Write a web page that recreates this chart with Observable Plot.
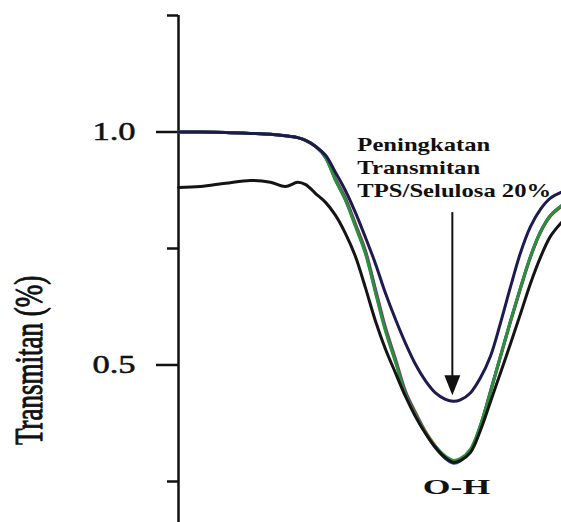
<!DOCTYPE html>
<html>
<head>
<meta charset="utf-8">
<script src="https://cdn.jsdelivr.net/npm/d3@7"></script>
<script src="https://cdn.jsdelivr.net/npm/@observablehq/plot@0.6"></script>
<style>
  body { margin: 0; background: #fff; }
  #chart svg { display: block; }
</style>
</head>
<body>
<div id="chart"></div>
<script>
// FTIR transmittance around the O-H stretching band (wavenumber in cm-1)
const wavenumber = [4000, 3943, 3877, 3812, 3760, 3721, 3689, 3668, 3642, 3616, 3590, 3564, 3538, 3512, 3486, 3460, 3433, 3407, 3381, 3355, 3329, 3303, 3282, 3264, 3238, 3212, 3185, 3159, 3133, 3107, 3081, 3055, 3029, 3000];

const tps0  = [0.881, 0.883, 0.890, 0.896, 0.892, 0.883, 0.892, 0.887, 0.868, 0.849, 0.821, 0.782, 0.733, 0.666, 0.595, 0.535, 0.482, 0.432, 0.389, 0.353, 0.323, 0.301, 0.291, 0.295, 0.312, 0.359, 0.422, 0.484, 0.546, 0.610, 0.675, 0.731, 0.776, 0.806];
const tps5  = [1.000, 1.000, 0.999, 0.997, 0.995, 0.992, 0.988, 0.982, 0.969, 0.946, 0.900, 0.858, 0.803, 0.746, 0.664, 0.582, 0.512, 0.443, 0.398, 0.357, 0.326, 0.303, 0.293, 0.297, 0.317, 0.368, 0.443, 0.518, 0.593, 0.664, 0.731, 0.784, 0.819, 0.840];
const tps10 = [1.000, 1.000, 0.999, 0.997, 0.995, 0.992, 0.988, 0.982, 0.969, 0.945, 0.897, 0.855, 0.800, 0.742, 0.660, 0.578, 0.508, 0.440, 0.395, 0.354, 0.322, 0.299, 0.289, 0.294, 0.316, 0.369, 0.445, 0.520, 0.595, 0.666, 0.733, 0.786, 0.821, 0.842];
const tps15 = [1.000, 1.000, 0.999, 0.997, 0.995, 0.992, 0.988, 0.982, 0.969, 0.945, 0.896, 0.853, 0.797, 0.739, 0.656, 0.574, 0.505, 0.437, 0.394, 0.355, 0.325, 0.304, 0.295, 0.299, 0.319, 0.370, 0.445, 0.520, 0.595, 0.666, 0.733, 0.786, 0.821, 0.842];
const tps20 = [1.000, 1.000, 0.999, 0.997, 0.995, 0.992, 0.988, 0.982, 0.969, 0.950, 0.913, 0.874, 0.827, 0.774, 0.718, 0.655, 0.597, 0.546, 0.501, 0.466, 0.440, 0.426, 0.422, 0.425, 0.440, 0.472, 0.520, 0.591, 0.668, 0.741, 0.797, 0.834, 0.858, 0.871];

// drawing order: later series sit on top
const series = [
  { name: "TPS/Selulosa 5%",  values: tps5,  color: "#c8392c" },
  { name: "TPS/Selulosa 10%", values: tps10, color: "#2c46c4" },
  { name: "TPS/Selulosa 15%", values: tps15, color: "#2e8f3a" },
  { name: "TPS",              values: tps0,  color: "#141414" },
  { name: "TPS/Selulosa 20%", values: tps20, color: "#1d1a4e" }
];

const majorTicks = [0.5, 1.0];
const minorTicks = [0.25, 0.75, 1.25];
const tickLabels = [1.0, 0.5];
const yTitle = [{ text: "Transmitan (%)", T: 0.51 }];
const note = [{ text: "Peningkatan\nTransmitan\nTPS/Selulosa 20%", w: 3533, T: 0.995 }];
const arrow = [{ w: 3285, from: 0.827, to: 0.435, shaftEnd: 0.46 }];
const band = [{ text: "O-H", w: 3274, T: 0.237 }];

// filled arrowhead pointing down, tip at the anchor point
const downTriangle = {
  draw(context, size) {
    const r = Math.sqrt(size / Math.PI);
    context.moveTo(0, 0);
    context.lineTo(-r, -2.5 * r);
    context.lineTo(r, -2.5 * r);
    context.closePath();
  }
};

const lineMarks = series.map(s =>
  Plot.line(wavenumber.map((w, i) => ({ w, T: s.values[i] })), {
    x: "w", y: "T", stroke: s.color, strokeWidth: 3, curve: "catmull-rom"
  })
);

const chart = Plot.plot({
  width: 561,
  height: 522,
  marginLeft: 178,
  marginRight: 0,
  marginTop: 15,
  marginBottom: 0,
  x: { domain: [4000, 3000], axis: null },
  y: { domain: [0.162, 1.25] },
  style: { fontFamily: "'Liberation Serif', serif", background: "white", color: "#111" },
  marks: [
    Plot.axisY(minorTicks, { tickSize: 11, tickFormat: () => "", strokeWidth: 2.5, label: null }),
    Plot.axisY(majorTicks, { tickSize: 22, tickFormat: () => "", strokeWidth: 2.5, label: null }),
    Plot.ruleX([4000], { strokeWidth: 2.5, stroke: "#111" }),
    ...lineMarks,
    Plot.ruleX(arrow, { x: "w", y1: "from", y2: "shaftEnd", strokeWidth: 2, stroke: "#111" }),
    Plot.dot(arrow, { x: "w", y: "to", symbol: downTriangle, r: 8, fill: "#111", stroke: null }),
    Plot.text(tickLabels, { frameAnchor: "left", y: d => d, text: d => d.toFixed(1), textAnchor: "end", dx: -43, fontSize: 25, fill: "#111", stroke: "#111", strokeWidth: 0.5 }),
    Plot.text(yTitle, { frameAnchor: "left", y: "T", text: "text", rotate: -90, textAnchor: "middle", dx: -149, fontSize: 27, fill: "#111", stroke: "#111", strokeWidth: 0.7 }),
    Plot.text(note, { x: "w", y: "T", text: "text", textAnchor: "start", lineAnchor: "top", lineHeight: 1.28, fontSize: 18, fontWeight: "bold", fill: "#111" }),
    Plot.text(band, { x: "w", y: "T", text: "text", fontSize: 21, fontWeight: "bold", fill: "#111" })
  ]
});

// the serif lettering is set wide (and the vertical title tall) via a scale on each label
const stretches = [[1.38, 1], [1, 1.5], [1.37, 1], [1.7, 1]];
chart.querySelectorAll('g[aria-label="text"]').forEach((g, i) => {
  const [sx, sy] = stretches[i] || [1, 1];
  g.querySelectorAll("text").forEach(el => {
    const t = el.getAttribute("transform") || "";
    el.setAttribute("transform", `${t} scale(${sx},${sy})`);
  });
});

document.getElementById("chart").append(chart);
</script>
</body>
</html>
